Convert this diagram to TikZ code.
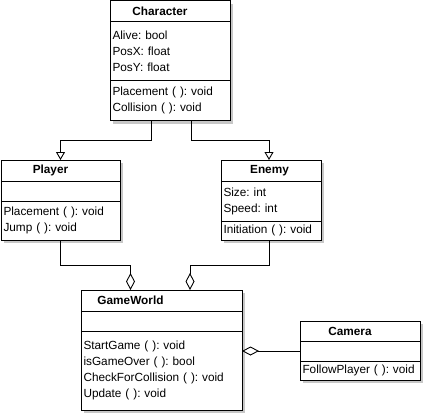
\documentclass[tikz,border=0pt]{standalone}
\usepackage{fontspec}
\setmainfont{Liberation Sans}
\usetikzlibrary{positioning,arrows.meta,shadows}
\frenchspacing

\begin{document}
\begin{tikzpicture}[x=1pt, y=-1pt,
  box/.style={draw, fill=white, line width=0.9pt, outer sep=0pt, inner xsep=2.5pt, inner ysep=0pt,
    align=left, text width=#1, font=\fontsize{11.8pt}{16pt}\selectfont\frenchspacing,
    drop shadow={shadow xshift=3pt, shadow yshift=-3pt, fill=black!22, opacity=1}},
  head/.style 2 args={label={[font=\fontsize{11.8pt}{16pt}\selectfont\bfseries, xshift=#2]center:#1}},
  inherit/.style={draw, line width=0.9pt, -{Triangle[open, length=8pt, width=9pt]}},
  aggr/.style={draw, line width=0.9pt, -{Diamond[open, length=17pt, width=9pt]}}]
  \useasboundingbox (0,0) rectangle (425,415);
  \node[box=115pt, minimum height=21pt, head={Character}{-10pt}, anchor=north west] (char-t) at (110,0.5) {};
  \node[box=115pt, minimum height=59pt, below=0pt of char-t] (char-a) {Alive: bool\\PosX: float\\PosY: float};
  \node[box=115pt, minimum height=40pt, below=0pt of char-a] (char-m) {Placement ( ): void\\Collision ( ): void};
  \node[box=114pt, minimum height=21pt, head={Player}{-10pt}, anchor=north west] (player-t) at (1,160) {};
  \node[box=114pt, minimum height=20pt, below=0pt of player-t] (player-a) {};
  \node[box=114pt, minimum height=39pt, below=0pt of player-a] (player-m) {Placement ( ): void\\Jump ( ): void};
  \node[box=95pt, minimum height=21pt, head={Enemy}{-1.5pt}, anchor=north west] (enemy-t) at (221,160) {};
  \node[box=95pt, minimum height=40pt, below=0pt of enemy-t] (enemy-a) {Size: int\\Speed: int};
  \node[box=95pt, minimum height=19pt, below=0pt of enemy-a] (enemy-m) {Initiation ( ): void};
  \node[box=156pt, minimum height=21pt, head={GameWorld}{-31pt}, anchor=north west] (world-t) at (81,290) {};
  \node[box=156pt, minimum height=20pt, below=0pt of world-t] (world-a) {};
  \node[box=156pt, minimum height=79pt, below=0pt of world-a] (world-m) {StartGame ( ): void\\isGameOver ( ): bool\\CheckForCollision ( ): void\\Update ( ): void};
  \node[box=115pt, minimum height=20pt, head={Camera}{-10pt}, anchor=north west] (cam-t) at (300,321) {};
  \node[box=115pt, minimum height=20pt, below=0pt of cam-t] (cam-a) {};
  \node[box=115pt, minimum height=19pt, below=0pt of cam-a] (cam-m) {FollowPlayer ( ): void};
  \draw[inherit] ([xshift=-19pt]char-m.south) -- ++(0,20) -| (player-t.north);
  \draw[inherit] ([xshift=21pt]char-m.south) -- ++(0,20) -| ([xshift=-2pt]enemy-t.north);
  \draw[aggr] (player-m.south) -- ++(0,25) -| ([xshift=-31pt]world-t.north);
  \draw[aggr] ([xshift=-2pt]enemy-m.south) -- ++(0,25) -| ([xshift=28.5pt]world-t.north);
  \draw[aggr] (cam-a.west) -- (cam-a.west -| world-m.east);
\end{tikzpicture}
\end{document}
